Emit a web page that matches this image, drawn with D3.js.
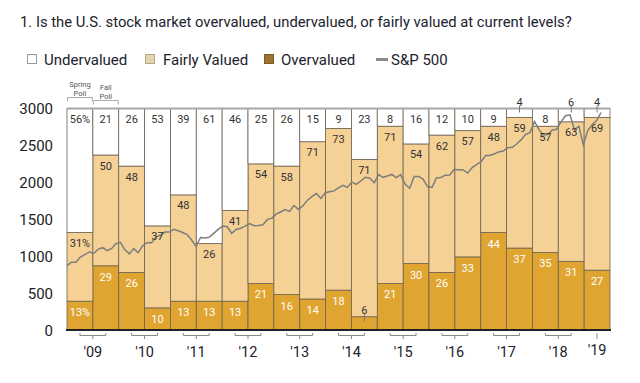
<!DOCTYPE html>
<html>
<head>
<meta charset="utf-8">
<script src="https://cdn.jsdelivr.net/npm/d3@7"></script>
<style>
  body { margin: 0; background: #fff; }
  svg text { font-family: Roboto, "Liberation Sans", sans-serif; }
</style>
</head>
<body>
<svg id="chart" width="640" height="383"></svg>
<script>
// poll rounds (spring / fall) and answer shares in percent
var polls = ["S09","F09","S10","F10","S11","F11","S12","F12","S13","F13","S14","F14","S15","F15","S16","F16","S17","F17","S18","F18","S19"]
var overvalued  = [13,29,26,10,13,13,13,21,16,14,18, 6,21,30,26,33,44,37,35,31,27]
var fairly      = [31,50,48,37,48,26,41,54,58,71,73,71,71,54,62,57,48,59,57,63,69]
var undervalued = [56,21,26,53,39,61,46,25,26,15, 9,23, 8,16,12,10, 9, 4, 8, 6, 4]

var years = ["'09","'10","'11","'12","'13","'14","'15","'16","'17","'18"]
var yTicks = [0,500,1000,1500,2000,2500,3000]

// S&P 500 monthly closes, Apr 2009 .. Apr 2019
var spStart = new Date(2009, 3, 1)
var sp500 = [
  873,919,919,987,1021,1057,1036,1096,1115,
  1074,1104,1169,1187,1089,1031,1102,1049,1141,1183,1181,1258,
  1286,1327,1326,1364,1345,1321,1292,1219,1131,1253,1247,1258,
  1312,1366,1408,1398,1310,1362,1379,1407,1441,1412,1416,1426,
  1498,1515,1569,1598,1631,1606,1686,1633,1682,1757,1806,1848,
  1783,1859,1872,1884,1924,1960,1931,2003,1972,2018,2068,2059,
  1995,2105,2068,2086,2107,2063,2104,1972,1920,2079,2080,2044,
  1940,1932,2060,2065,2097,2099,2174,2171,2168,2126,2199,2239,
  2279,2364,2363,2384,2412,2423,2470,2472,2519,2575,2648,2674,
  2824,2714,2641,2648,2705,2718,2816,2902,2914,2712,2760,2507,
  2704,2784,2834,2946
]

var svg = d3.select("#chart")
var ink = "#22222e"

var x = d3.scaleBand().domain(polls).range([67, 610]).padding(0)
var y = d3.scaleLinear().domain([0, 3000]).range([330, 108.5])
var bw = x.bandwidth()

// title
svg.append("text").attr("x", 20).attr("y", 27)
  .attr("font-size", 14.8).attr("fill", ink)
  .text("1. Is the U.S. stock market overvalued, undervalued, or fairly valued at current levels?")

// legend
var legend = svg.append("g")
legend.append("rect").attr("x", 27.5).attr("y", 54.5).attr("width", 9).attr("height", 9)
  .attr("fill", "#fff").attr("stroke", "#999")
legend.append("text").attr("x", 44).attr("y", 65).attr("font-size", 15).attr("fill", ink).text("Undervalued")
legend.append("rect").attr("x", 145.5).attr("y", 54.5).attr("width", 9).attr("height", 9)
  .attr("fill", "#e4d3ad").attr("stroke", "#b9a888")
legend.append("text").attr("x", 163).attr("y", 65).attr("font-size", 15).attr("fill", ink).text("Fairly Valued")
legend.append("rect").attr("x", 264.5).attr("y", 54.5).attr("width", 9).attr("height", 9)
  .attr("fill", "#9c7230").attr("stroke", "#7e5a22")
legend.append("text").attr("x", 281).attr("y", 65).attr("font-size", 15).attr("fill", ink).text("Overvalued")
legend.append("line").attr("x1", 376).attr("x2", 388).attr("y1", 59.5).attr("y2", 59.5)
  .attr("stroke", "#8a8a8a").attr("stroke-width", 3)
legend.append("text").attr("x", 391).attr("y", 65).attr("font-size", 15).attr("fill", ink).text("S&P 500")

// spring / fall poll notes
function pollNote(i, l1, l2, y1, by) {
  var cx = x(polls[i]) + bw / 2
  svg.append("text").attr("x", cx).attr("y", y1).attr("text-anchor", "middle")
    .attr("font-size", 7.5).attr("fill", "#555").text(l1)
  svg.append("text").attr("x", cx).attr("y", y1 + 9).attr("text-anchor", "middle")
    .attr("font-size", 7.5).attr("fill", "#555").text(l2)
  svg.append("path")
    .attr("d", "M" + (x(polls[i]) + 0.5) + "," + (by + 4) + "V" + by + "H" + (x(polls[i]) + bw - 0.5) + "V" + (by + 4))
    .attr("fill", "none").attr("stroke", "#aaa").attr("stroke-width", 1)
}
pollNote(0, "Spring", "Poll", 87, 97.5)
pollNote(1, "Fall", "Poll", 90, 100.5)

// stacked bars
var rows = polls.map(function(p, i) {
  return { key: p, over: overvalued[i], fair: fairly[i], under: undervalued[i] }
})
var stack = d3.stack().keys(["over", "fair", "under"])(rows)
var fills = { over: "#e0a430", fair: "#f5d196", under: "#ffffff" }

svg.append("g").selectAll("g")
  .data(stack).enter().append("g")
  .attr("fill", function(s) { return fills[s.key] })
  .selectAll("rect")
  .data(function(s) { return s }).enter()
  .append("rect")
  .attr("x", function(d) { return x(d.data.key) })
  .attr("y", function(d) { return y(Math.min(d[1], 100) * 30) })
  .attr("width", bw)
  .attr("height", function(d) { return y(d[0] * 30) - y(Math.min(d[1], 100) * 30) })
  .attr("stroke", "#6e6250").attr("stroke-width", 0.8)

// top line at 3000
svg.append("line").attr("x1", 67).attr("x2", 610).attr("y1", y(3000)).attr("y2", y(3000))
  .attr("stroke", "#a8a8a8").attr("stroke-width", 2)

// S&P 500 line
var xt = d3.scaleTime()
  .domain([spStart, new Date(2019, 3, 1)])
  .range([67, 601])
var line = d3.line()
  .x(function(d, i) { return xt(new Date(2009, 3 + i, 1)) })
  .y(function(d) { return y(d) })
svg.append("path").datum(sp500).attr("d", line)
  .attr("fill", "none").attr("stroke", "#7d7d7d").attr("stroke-width", 1.5)

// value labels
var labels = svg.append("g").attr("font-size", 11).attr("text-anchor", "middle")
rows.forEach(function(r, i) {
  var cx = x(r.key) + bw / 2
  var pc = i === 0 ? "%" : ""
  var topOver = y(r.over * 30)
  var topFair = y((r.over + r.fair) * 30)
  // overvalued
  if (r.over < 8) {
    labels.append("text").attr("x", cx).attr("y", topOver - 3).attr("fill", "#333").text(r.over + pc)
    labels.append("line").attr("x1", cx).attr("x2", cx).attr("y1", topOver - 3).attr("y2", topOver + 5)
      .attr("stroke", "#777")
  } else {
    labels.append("text").attr("x", cx).attr("y", topOver + 15).attr("fill", "#fff").text(r.over + pc)
  }
  // fairly valued
  labels.append("text").attr("x", cx).attr("y", topFair + 14.5).attr("fill", "#333").text(r.fair + pc)
  // undervalued
  if (r.under < 8) {
    labels.append("text").attr("x", cx).attr("y", y(3000) - 3).attr("fill", "#333").text(r.under + pc)
    labels.append("line").attr("x1", cx).attr("x2", cx).attr("y1", y(3000) - 3).attr("y2", y(3000) + 4)
      .attr("stroke", "#777")
  } else {
    labels.append("text").attr("x", cx).attr("y", y(3000) + 14).attr("fill", "#333").text(r.under + pc)
  }
})

// y axis labels
svg.append("g").selectAll("text")
  .data(yTicks).enter().append("text")
  .attr("x", 53).attr("y", function(d) { return y(d) + 5.5 })
  .attr("text-anchor", "end").attr("font-size", 15).attr("fill", "#222")
  .text(function(d) { return d })

// x axis baseline
svg.append("line").attr("x1", 66).attr("x2", 611).attr("y1", 330).attr("y2", 330)
  .attr("stroke", "#222").attr("stroke-width", 2)

// year brackets
var xg = svg.append("g")
years.forEach(function(yr, k) {
  var s = x(polls[2 * k]) + bw / 2
  var f = x(polls[2 * k + 1]) + bw / 2
  var mid = x(polls[2 * k + 1])
  xg.append("path")
    .attr("d", "M" + s + ",333V335.5H" + f + "V333M" + mid + ",335.5V339")
    .attr("fill", "none").attr("stroke", "#888").attr("stroke-width", 1)
  xg.append("text").attr("x", mid).attr("y", 357).attr("text-anchor", "middle")
    .attr("font-size", 14.5).attr("fill", ink).text(yr)
})
var last = x(polls[20]) + bw / 2
xg.append("line").attr("x1", last).attr("x2", last).attr("y1", 333).attr("y2", 339)
  .attr("stroke", "#888")
xg.append("text").attr("x", last).attr("y", 355).attr("text-anchor", "middle")
  .attr("font-size", 14.5).attr("fill", ink).text("'19")
</script>
</body>
</html>
